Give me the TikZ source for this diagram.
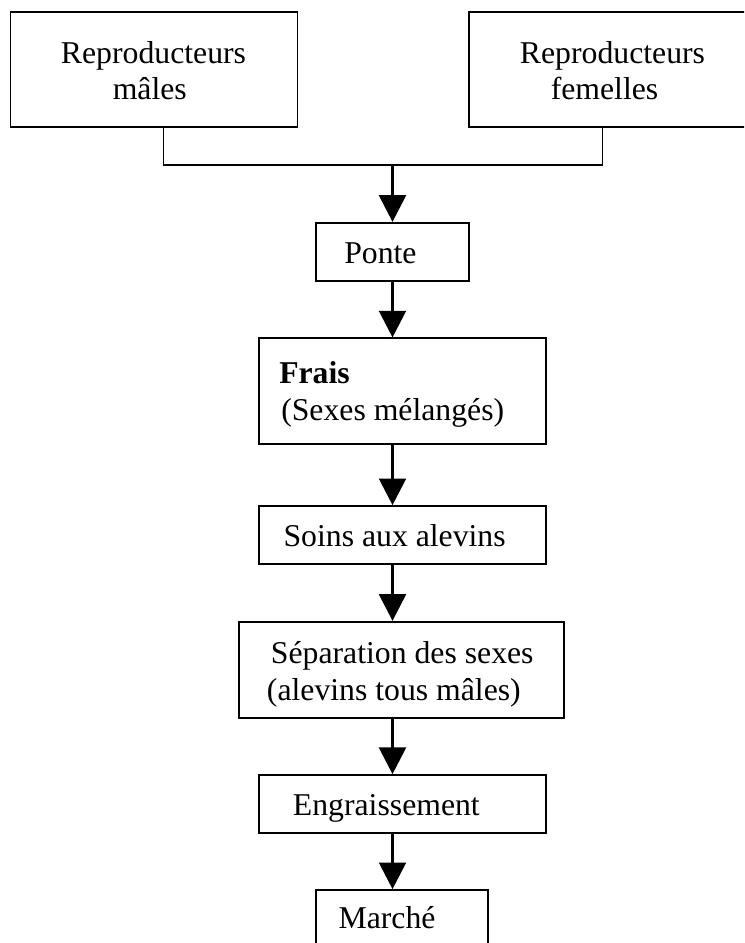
\documentclass[tikz,border=0pt]{standalone}
\usepackage{fontspec}
\setmainfont{Liberation Serif}
\usetikzlibrary{arrows.meta}
\begin{document}
\begin{tikzpicture}[x=0.75pt,y=-0.75pt,
  box/.style={draw,line width=1.25pt,inner sep=0pt,minimum width=#1},
  txt/.style={anchor=base west,inner sep=0pt,font=\fontsize{23.8}{27.5}\selectfont},
  arr/.style={line width=2.4pt,-{Triangle[width=20pt,length=20pt]}},
  thin link/.style={line width=1pt}]
\useasboundingbox (0,0) rectangle (744,943);
\clip (0,0) rectangle (744,943);
% boxes
\node[box=215.4pt,minimum height=86.7pt] (male) at (154,69.5) {};
\node[box=215.4pt,minimum height=86.7pt] (femelle) at (612.3,69.5) {};
\node[box=114.75pt,minimum height=43.7pt] (ponte) at (392.5,251.85) {};
\node[box=215.25pt,minimum height=79.3pt] (frais) at (402.2,391.15) {};
\node[box=215.25pt,minimum height=43.7pt] (soins) at (402.2,535.15) {};
\node[box=243.75pt,minimum height=72pt] (sep) at (401.8,669.7) {};
\node[box=215.25pt,minimum height=43.3pt] (engr) at (402.2,803.85) {};
\node[box=129pt,minimum height=43.5pt] (marche) at (401.7,919) {};
% texts
\node[txt] (t1a) at (60.7,63.3) {Reproducteurs};
\node[txt] (t1b) at (112.5,99.3) {mâles};
\node[txt] (t2a) at (519.7,63.3) {Reproducteurs};
\node[txt] (t2b) at (550.5,99.3) {femelles};
\node[txt] (t3) at (344,263.3) {Ponte};
\node[txt,font=\fontsize{23.8}{27.5}\selectfont\bfseries] (t4a) at (279,383.3) {Frais};
\node[txt] (t4b) at (281,420) {(Sexes mélangés)};
\node[txt] (t5) at (283.3,546.7) {Soins aux alevins};
\node[txt] (t6a) at (270.7,663.3) {Séparation des sexes};
\node[txt] (t6b) at (266.7,700) {(alevins tous mâles)};
\node[txt] (t7) at (292.7,815) {Engraissement};
\node[txt] (t8) at (338.3,928) {Marché};
% connectors
\coordinate (jl) at (163.7,165);
\coordinate (jr) at (602.7,165);
\draw[thin link] (male.south -| jl) -- (jl) -- (jr) -- (femelle.south -| jr);
\draw[arr] (ponte.north |- jl) -- (ponte.north);
\draw[arr] (ponte.south) -- (ponte.south |- frais.north);
\draw[arr] (ponte.south |- frais.south) -- (ponte.south |- soins.north);
\draw[arr] (ponte.south |- soins.south) -- (ponte.south |- sep.north);
\draw[arr] (ponte.south |- sep.south) -- (ponte.south |- engr.north);
\draw[arr] (ponte.south |- engr.south) -- (ponte.south |- marche.north);
\end{tikzpicture}
\end{document}
